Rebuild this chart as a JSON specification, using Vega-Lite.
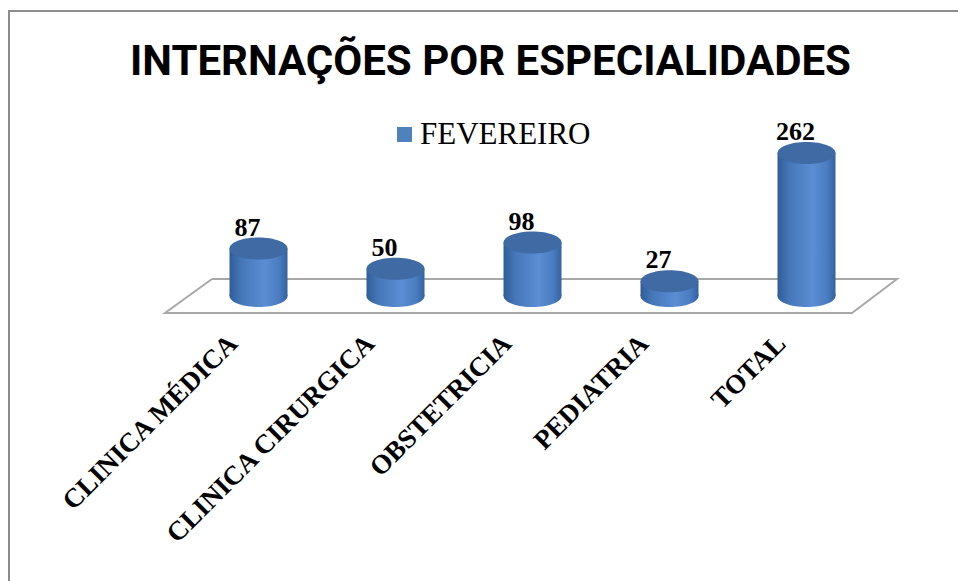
{
  "$schema": "https://vega.github.io/schema/vega-lite/v6.json",
  "width": 685,
  "height": 143,
  "autosize": {"type": "none"},
  "padding": {"left": 190, "top": 153, "right": 83, "bottom": 285},
  "background": "white",
  "config": {
    "view": {"stroke": null},
    "legend": {"labelFont": "Liberation Serif", "labelFontSize": 31, "labelColor": "black", "labelLimit": 0}
  },
  "title": {
    "text": "INTERNAÇÕES POR ESPECIALIDADES",
    "font": "Roboto",
    "fontWeight": "bold",
    "fontSize": 42,
    "color": "black",
    "anchor": "middle",
    "dx": -42,
    "offset": -77
  },
  "datasets": {
    "main": [
      {"cat": "CLINICA MÉDICA", "value": 87, "serie": "FEVEREIRO"},
      {"cat": "CLINICA CIRURGICA", "value": 50, "serie": "FEVEREIRO"},
      {"cat": "OBSTETRICIA", "value": 98, "serie": "FEVEREIRO"},
      {"cat": "PEDIATRIA", "value": 27, "serie": "FEVEREIRO"},
      {"cat": "TOTAL", "value": 262, "serie": "FEVEREIRO"}
    ],
    "decor": [
      {"part": "floor", "ord": 0, "fx": 22, "fy": 17},
      {"part": "floor", "ord": 1, "fx": 707, "fy": 17},
      {"part": "floor", "ord": 2, "fx": 662, "fy": -17},
      {"part": "floor", "ord": 3, "fx": -25, "fy": -17},
      {"part": "floor", "ord": 4, "fx": 22, "fy": 17},
      {"part": "border", "ord": 0, "fx": 800, "fy": 285},
      {"part": "border", "ord": 1, "fx": -181, "fy": 285},
      {"part": "border", "ord": 2, "fx": -181, "fy": -300}
    ]
  },
  "layer": [
    {
      "data": {"name": "decor"},
      "mark": {"type": "line", "strokeWidth": 2, "clip": false},
      "encoding": {
        "x": {"field": "fx", "type": "quantitative", "scale": {"domain": [0, 685], "nice": false, "zero": false}, "axis": null},
        "y": {"field": "fy", "type": "quantitative", "scale": {"domain": [0, 143], "nice": false, "zero": false}, "axis": null},
        "detail": {"field": "part"},
        "order": {"field": "ord", "type": "quantitative"},
        "color": {"field": "part", "type": "nominal", "scale": {"domain": ["floor", "border"], "range": ["#a8a8a8", "#8c8c8c"]}, "legend": null}
      }
    },
    {
      "data": {"name": "main"},
      "encoding": {
        "x": {
          "field": "cat", "type": "nominal", "sort": null,
          "scale": {"paddingInner": 0, "paddingOuter": 0},
          "axis": {
            "title": null, "labelAngle": -45, "labelAlign": "right", "labelBaseline": "middle",
            "labelFont": "Liberation Serif", "labelFontWeight": "bold", "labelFontSize": 27,
            "labelColor": "black", "ticks": false, "domain": false, "labelPadding": 43,
            "labelOffset": -25, "labelLimit": 0
          }
        },
        "y": {"field": "value", "type": "quantitative", "scale": {"domain": [0, 262], "nice": false}, "axis": null}
      },
      "layer": [
        {
          "mark": {
            "type": "point", "filled": true, "opacity": 1, "size": 3364, "strokeWidth": 0,
            "shape": "M -1 0 A 1 0.38 0 1 1 1 0 A 1 0.38 0 1 1 -1 0 Z",
            "fill": {"gradient": "linear", "x1": 0, "y1": 0, "x2": 1, "y2": 0, "stops": [
              {"offset": 0, "color": "#2f5d99"}, {"offset": 0.2, "color": "#4576b8"},
              {"offset": 0.6, "color": "#5a8dd3"}, {"offset": 0.85, "color": "#4b7dc2"},
              {"offset": 1, "color": "#33629f"}]}
          },
          "encoding": {"y": {"datum": 0, "type": "quantitative"}}
        },
        {
          "mark": {
            "type": "bar", "width": 58, "strokeWidth": 0,
            "fill": {"gradient": "linear", "x1": 0, "y1": 0, "x2": 1, "y2": 0, "stops": [
              {"offset": 0, "color": "#2f5d99"}, {"offset": 0.2, "color": "#4576b8"},
              {"offset": 0.6, "color": "#5a8dd3"}, {"offset": 0.85, "color": "#4b7dc2"},
              {"offset": 1, "color": "#33629f"}]}
          }
        },
        {
          "mark": {
            "type": "point", "filled": true, "opacity": 1, "size": 3364, "strokeWidth": 0,
            "shape": "M -1 0 A 1 0.38 0 1 1 1 0 A 1 0.38 0 1 1 -1 0 Z",
            "fill": "#3f6aa4"
          }
        },
        {
          "mark": {
            "type": "text", "dy": -13, "dx": -11, "baseline": "alphabetic",
            "font": "Liberation Serif", "fontWeight": "bold", "fontSize": 26, "color": "black"
          },
          "encoding": {"text": {"field": "value", "type": "quantitative"}}
        },
        {
          "mark": {"type": "point", "filled": true, "opacity": 0, "size": 10},
          "encoding": {
            "color": {
              "field": "serie", "type": "nominal",
              "scale": {"domain": ["FEVEREIRO"], "range": ["#4f81bd"]},
              "legend": {
                "title": null, "orient": "none", "legendX": 199, "legendY": -34,
                "symbolType": "square", "symbolSize": 225, "symbolOpacity": 1,
                "symbolStrokeWidth": 0, "symbolFillColor": "#4f81bd",
                "labelFont": "Liberation Serif", "labelFontSize": 31, "labelColor": "black",
                "labelOffset": 0, "padding": 0, "labelLimit": 0,
                "labelFontWeight": "normal",
                "labelFontStyle": "normal"
              }
            }
          }
        }
      ]
    }
  ],
  "resolve": {"scale": {"x": "independent", "y": "independent", "color": "independent"}}
}
